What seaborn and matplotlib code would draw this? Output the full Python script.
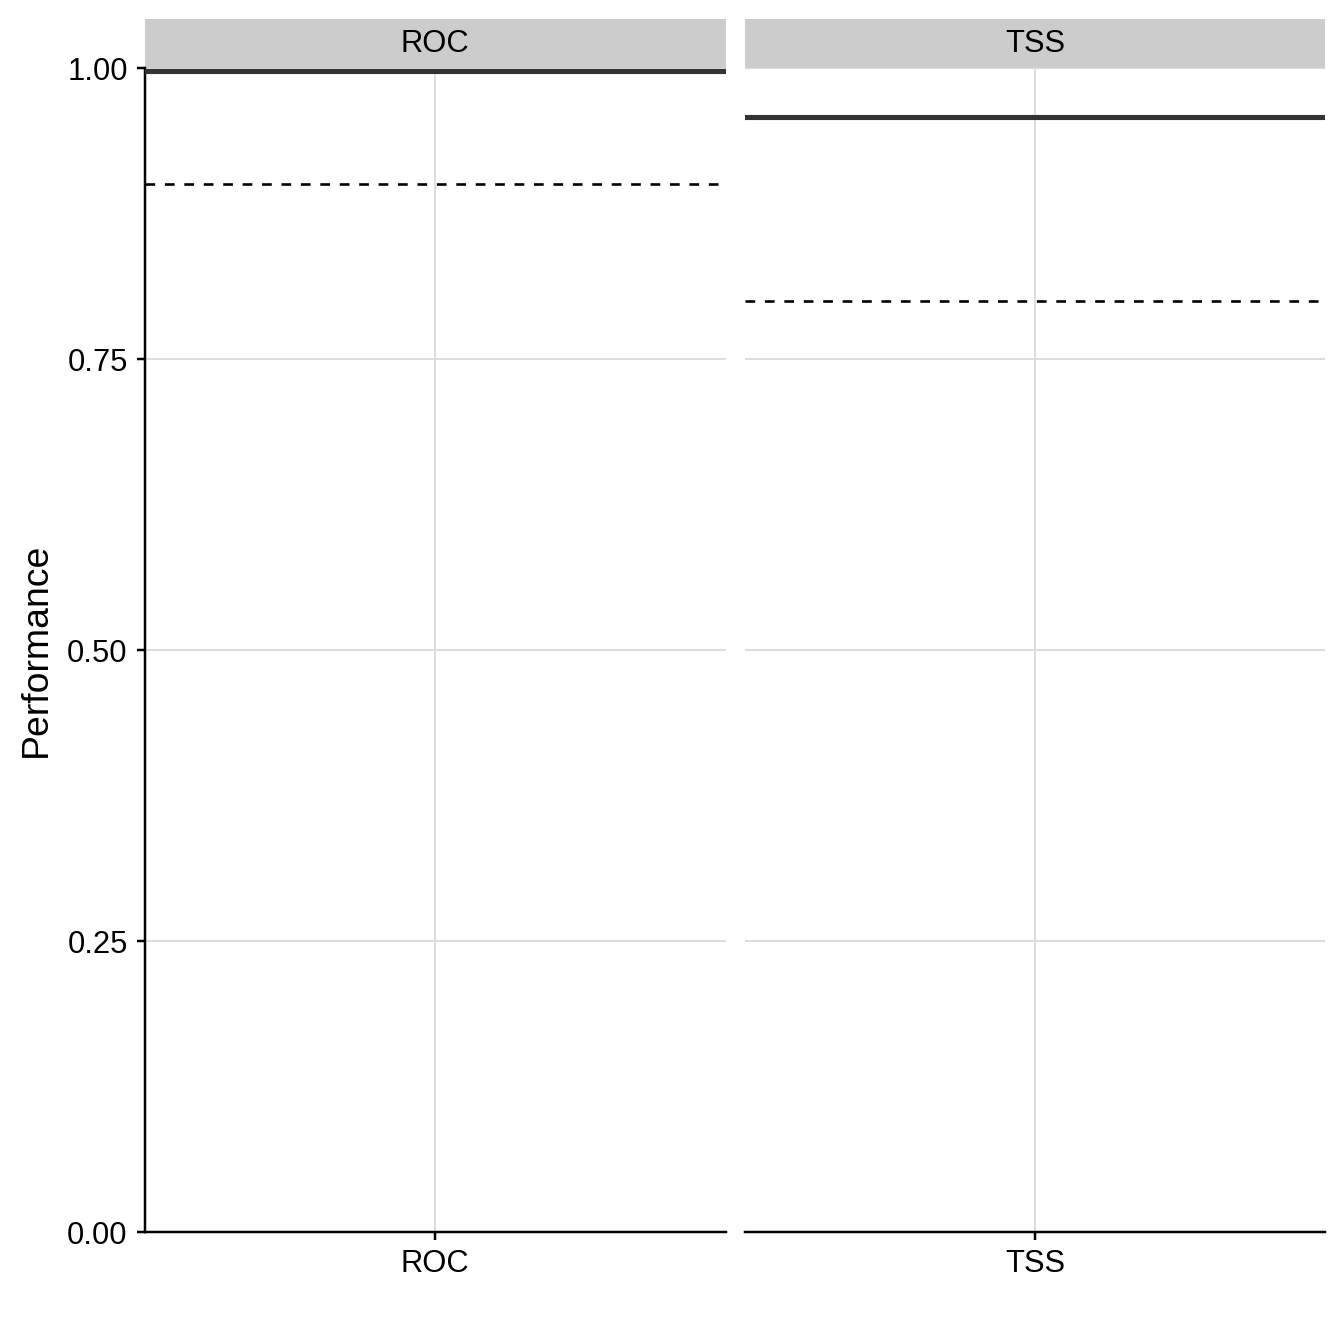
import matplotlib
matplotlib.use("Agg")
import matplotlib.pyplot as plt
import matplotlib.patches as mpatches
import seaborn as sns
import pandas as pd

# values
metrics = ["ROC", "TSS"]
mean_score = [0.997, 0.958]
threshold = [0.90, 0.80]
y_ticks = [0.00, 0.25, 0.50, 0.75, 1.00]

df = pd.DataFrame({"metric": metrics, "mean": mean_score, "threshold": threshold})

sns.set_theme(style="white")
plt.rcParams["font.family"] = ["Liberation Sans", "DejaVu Sans"]

g = sns.FacetGrid(df, col="metric", col_order=metrics, sharey=True, sharex=False,
                  height=6.4, aspect=0.5, despine=False)


def draw_lines(data, **kws):
    ax = plt.gca()
    for _, row in data.iterrows():
        ax.axhline(row["mean"], color="#333333", lw=1.75, zorder=3)
        ax.axhline(row["threshold"], color="black", lw=0.9,
                   linestyle=(0, (3.7, 3.7)), zorder=3)
    ax.set_xticks([0])
    ax.set_xticklabels([data["metric"].iloc[0]])
    ax.set_xlim(-0.5, 0.5)


g.map_dataframe(draw_lines)
g.set(ylim=(0, 1), yticks=y_ticks)
g.set_titles("")
g.figure.set_size_inches(6.4, 6.4)
g.figure.subplots_adjust(left=0.1079, right=0.9859, bottom=0.0833, top=0.9494,
                         wspace=0.0328)

fs = 10.6
for i, ax in enumerate(g.axes.flat):
    ax.grid(True, color="#DDDDDD", lw=0.7, zorder=0)
    ax.set_axisbelow(True)
    for s in ["top", "right"]:
        ax.spines[s].set_visible(False)
    ax.spines["bottom"].set_color("black")
    ax.spines["bottom"].set_linewidth(0.85)
    ax.spines["bottom"].set_zorder(4)
    if i == 0:
        ax.spines["left"].set_color("black")
        ax.spines["left"].set_linewidth(0.85)
        ax.set_yticklabels([f"{v:.2f}" for v in y_ticks])
        ax.tick_params(axis="y", left=True, length=2.75, width=0.85, color="black",
                       labelsize=fs, labelcolor="black", pad=3.2)
        ax.set_ylabel("Performance", fontsize=12.8, color="black", labelpad=4.6)
    else:
        ax.spines["left"].set_visible(False)
        ax.tick_params(axis="y", left=False, labelleft=False)
        ax.set_ylabel("")
    ax.tick_params(axis="x", bottom=True, length=2.75, width=0.85, color="black",
                   labelsize=fs, labelcolor="black", pad=3.2)
    ax.set_xlabel("")
    # facet strip
    strip = mpatches.Rectangle((0, 1.0), 1, 0.042, transform=ax.transAxes,
                               facecolor="#CCCCCC", edgecolor="none", clip_on=False)
    ax.add_patch(strip)
    ax.text(0.5, 1.021, metrics[i], transform=ax.transAxes, ha="center",
            va="center", fontsize=fs, color="black")

g.figure.savefig("out.png", dpi=210)
